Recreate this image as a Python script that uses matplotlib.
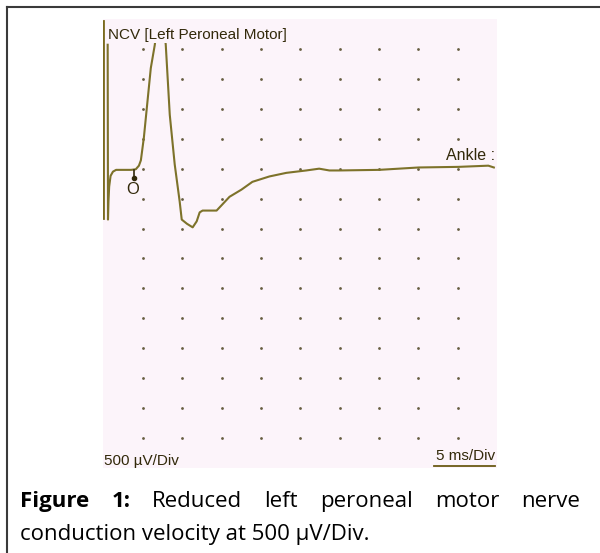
import matplotlib
matplotlib.use("Agg")
import matplotlib.pyplot as plt
from matplotlib.lines import Line2D
from matplotlib.patches import Rectangle

# motor response: time (ms) and amplitude (mV)
trace_ms = [0.53, 0.57, 0.63, 0.72, 0.90, 1.20, 1.60, 2.50, 3.50, 4.10, 4.50,
            4.75, 5.13, 5.63, 6.01, 6.52, 6.85, 7.20, 7.50, 7.91, 8.42, 9.05,
            9.68, 9.94, 10.60, 11.33, 11.84, 12.22, 12.59, 14.37, 16.01, 17.53,
            18.92, 21.08, 23.23, 25.76, 27.40, 28.70, 29.90, 35.00, 40.06,
            45.10, 48.90, 49.60]
trace_mv = [2.07, -0.85, -0.55, -0.30, -0.12, -0.05, -0.02, -0.02, -0.02, -0.01,
            0.05, 0.14, 0.52, 1.18, 1.68, 2.07, 2.50, 3.10, 2.60, 2.07, 0.90,
            0.07, -0.55, -0.85, -0.92, -0.98, -0.88, -0.73, -0.70, -0.70, -0.47,
            -0.35, -0.22, -0.13, -0.07, -0.03, 0.00, -0.03, -0.03, -0.02, 0.02,
            0.03, 0.05, 0.02]

onset_ms = 3.87
onset_mv = [-0.02, -0.15]

ms_per_div = 5
mv_per_div = 0.5
n_xdiv = 10
n_ydiv = 15
y_top = 2.5
clip_mv = 2.1          # trace is hidden above this level (title strip)
left_bar_mv = -0.82    # lower end of the screen's left marker bar

title = "NCV [Left Peroneal Motor]"
site_label = "Ankle :"
gain_label = "500 µV/Div"
sweep_label = "5 ms/Div"

caption_line1 = [("Figure", "bold"), ("1:", "bold"), ("Reduced", "normal"),
                 ("left", "normal"), ("peroneal", "normal"), ("motor", "normal"),
                 ("nerve", "normal")]
caption_line2 = "conduction velocity at 500 µV/Div."

panel_bg = "#fcf4fa"
trace_col = "#7d722a"
text_col = "#32290a"
dot_col = "#665d40"

W, H = 600, 553
fig = plt.figure(figsize=(W / 100, H / 100), dpi=100)
fig.patch.set_facecolor("white")

# screen panel (pixel rectangle of the scope display)
left, right, top, bottom = 103.5, 497.0, 19.0, 468.0
ax = fig.add_axes([left / W, 1 - bottom / H, (right - left) / W, (bottom - top) / H])
ax.set_facecolor(panel_bg)
for sp in ax.spines.values():
    sp.set_visible(False)
ax.set_xticks([])
ax.set_yticks([])
y_lo = y_top - n_ydiv * mv_per_div
ax.set_xlim(0, n_xdiv * ms_per_div)
ax.set_ylim(y_lo, y_top)

# dotted graticule
for i in range(1, n_xdiv):
    for j in range(1, n_ydiv):
        ax.plot(i * ms_per_div, y_top - j * mv_per_div, "o", ms=2.0, mew=0,
                color=dot_col, zorder=1)

ax.axvline(0, ymin=(left_bar_mv - y_lo) / (y_top - y_lo), ymax=0.995,
           color="#7a6a1e", lw=2.0, zorder=2)

line, = ax.plot(trace_ms, trace_mv, color=trace_col, lw=1.5, zorder=3,
                solid_joinstyle="round")
clip = Rectangle((0, y_lo), n_xdiv * ms_per_div, clip_mv - y_lo,
                 transform=ax.transData, fc="none", ec="none")
line.set_clip_path(clip)

# onset cursor
ax.plot([onset_ms, onset_ms], onset_mv, color=text_col, lw=1.2, zorder=4)
ax.plot(onset_ms, onset_mv[1], "o", ms=3, color=text_col, zorder=4)
ax.text(onset_ms - 0.15, -0.34, "O", ha="center", va="center", fontsize=12,
        color=text_col, family="Liberation Sans")

ax.text(0.57, 2.23, title, ha="left", va="center", fontsize=11, color=text_col,
        family="Liberation Sans", zorder=5)
ax.text(49.75, 0.145, site_label, ha="right", va="baseline", fontsize=11.5,
        color=text_col, family="Liberation Sans")
ax.text(49.75, -4.87, sweep_label, ha="right", va="baseline", fontsize=11,
        color=text_col, family="Liberation Sans")
ax.text(0.06, -4.95, gain_label, ha="left", va="baseline", fontsize=11,
        color=text_col, family="Liberation Sans")
ax.axhline(-4.96, xmin=0.84, xmax=0.995, color="#6a5a14", lw=1.3)

# outer frame (only top and left edges fall inside the crop)
fig.add_artist(Line2D([7 / W, 7 / W], [0, 1 - 7 / H], color="#3a3a3a", lw=1.5))
fig.add_artist(Line2D([7 / W, 1], [1 - 7 / H, 1 - 7 / H], color="#3a3a3a", lw=1.5))

# justified caption
cap_font = "Open Sans"
cap_size = 16
x0, x1 = 20 / W, 580 / W
words = [fig.text(0, 1 - 507 / H, w, fontsize=cap_size, fontweight=wt,
                  family=cap_font, va="baseline", ha="left")
         for w, wt in caption_line1]
fig.canvas.draw()
r = fig.canvas.get_renderer()
widths = [t.get_window_extent(r).width / W for t in words]
gap = (x1 - x0 - sum(widths)) / (len(words) - 1)
x = x0
for t, w in zip(words, widths):
    t.set_x(x)
    x += w + gap
fig.text(x0, 1 - 540 / H, caption_line2, fontsize=cap_size, family=cap_font,
         va="baseline", ha="left")

fig.savefig("out.png", dpi=100)
